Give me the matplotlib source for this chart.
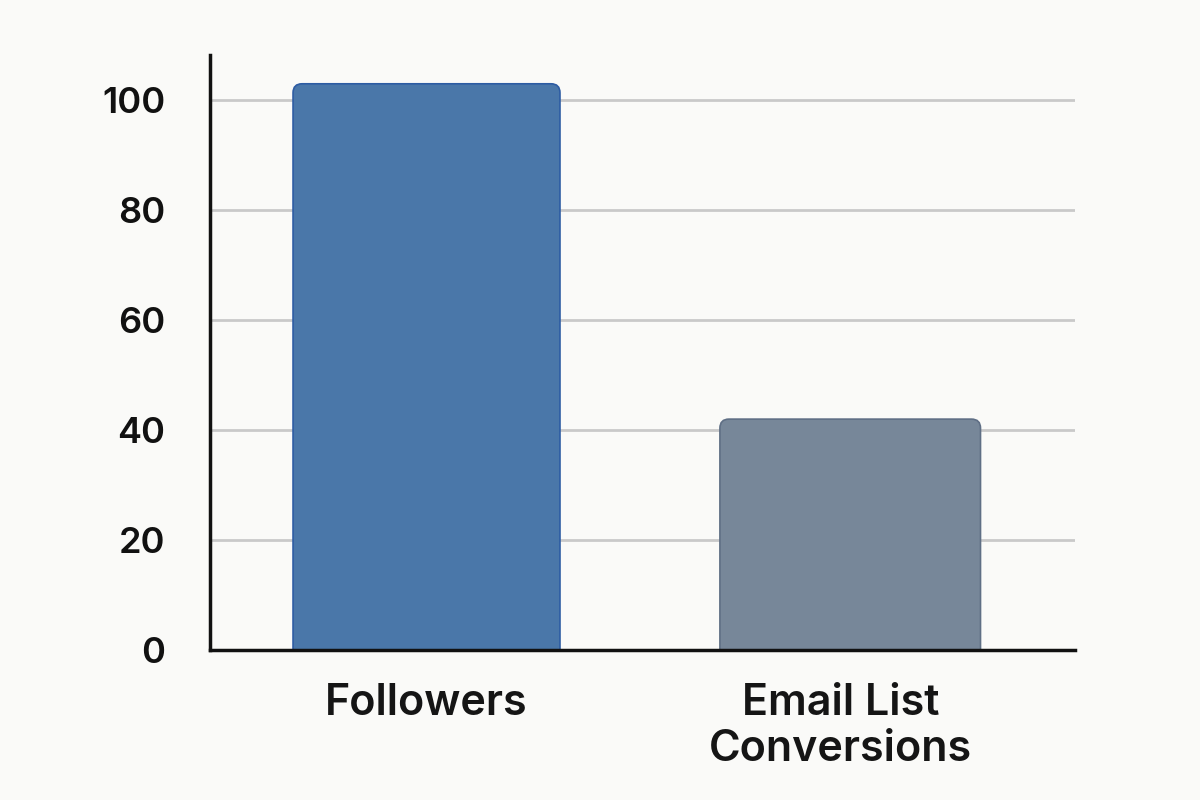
import matplotlib
matplotlib.use("Agg")
import matplotlib.pyplot as plt
import matplotlib.transforms as mtransforms
from matplotlib.patches import FancyBboxPatch

categories = ["Followers", "Email List\nConversions"]
values = [103, 42]
bar_widths = [0.63, 0.615]
bar_colors = ["#4a77a9", "#778799"]
edge_colors = ["#2d5ca3", "#5f6f85"]
yticks = [0, 20, 40, 60, 80, 100]

plt.rcParams['font.family'] = ['Inter', 'DejaVu Sans']

fig = plt.figure(figsize=(12, 8), dpi=100)
fig.patch.set_facecolor("#fafaf8")
ax = fig.add_axes([0.175, 0.1875, 0.721, 0.7435])
ax.set_facecolor("#fafaf8")

x = list(range(len(categories)))
bars = ax.bar(x, values, width=bar_widths, color="none", edgecolor="none")

# rounded-top bars built from the bar geometry
rad_px = 9
ax.set_xlim(-0.511, 1.531)
ax.set_ylim(0, 108.2)
fig.canvas.draw()
xpp = (ax.get_xlim()[1] - ax.get_xlim()[0]) / ax.bbox.width
ypp = (ax.get_ylim()[1] - ax.get_ylim()[0]) / ax.bbox.height
pad_x = rad_px * xpp
for b, fc, ec in zip(bars, bar_colors, edge_colors):
    x0, w, h = b.get_x(), b.get_width(), b.get_height()
    p = FancyBboxPatch((x0 + pad_x, -20), w - 2 * pad_x, h + 20 - pad_x * (ypp / xpp),
                       boxstyle=f"round,pad={pad_x}", mutation_aspect=ypp / xpp,
                       facecolor=fc, edgecolor=ec, linewidth=1.2, zorder=3)
    ax.add_patch(p)

ax.set_yticks(yticks)
ax.set_yticklabels([str(t) for t in yticks], fontsize=26, fontweight='semibold', color="#111111")
ax.set_xticks(x)
ax.set_xticklabels(categories, fontsize=31, fontweight='semibold', color="#151515", linespacing=1.15)
ax.tick_params(axis='both', length=0)
ax.tick_params(axis='y', pad=32)
ax.tick_params(axis='x', pad=24)

# slight leftward offset of the second category label, as in the reference
lbl = ax.get_xticklabels()[1]
lbl.set_transform(lbl.get_transform() + mtransforms.ScaledTranslation(-10 / 100, 0, fig.dpi_scale_trans))

ax.grid(axis='y', color="#c9c9c9", linewidth=2)
ax.set_axisbelow(True)
for s in ['top', 'right']:
    ax.spines[s].set_visible(False)
ax.spines['left'].set_linewidth(2.5)
ax.spines['bottom'].set_linewidth(2.5)
ax.spines['left'].set_color("#111111")
ax.spines['bottom'].set_color("#111111")
ax.spines['left'].set_zorder(4)
ax.spines['bottom'].set_zorder(4)

fig.savefig("out.png", dpi=100, facecolor=fig.get_facecolor())
